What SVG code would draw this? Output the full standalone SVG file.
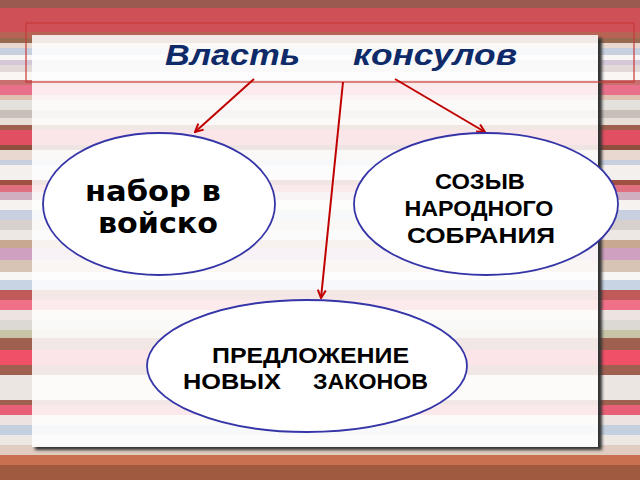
<svg xmlns="http://www.w3.org/2000/svg" width="640" height="480" viewBox="0 0 640 480">
  <defs>
    <style>
      .node { fill: #ffffff; stroke: #3535a8; stroke-width: 1.8; }
      .conn { stroke: #c00000; stroke-width: 2; fill: none; marker-end: url(#arr); }
      .title { font-family: "Liberation Sans", Arial, sans-serif; font-weight: bold; font-style: italic; font-size: 30px; fill: #0f2a68; }
      .cap { font-family: "Liberation Sans", Arial, sans-serif; font-weight: bold; font-size: 22px; fill: #000; }
      .big { font-family: "DejaVu Sans", sans-serif; font-weight: bold; font-size: 29px; fill: #000; }
    </style>
    <marker id="arr" viewBox="0 0 10 10" refX="9" refY="5" markerWidth="10" markerHeight="10" markerUnits="userSpaceOnUse" orient="auto">
      <path d="M1,1 L9,5 L1,9" fill="none" stroke="#c00000" stroke-width="2"/>
    </marker>
    <filter id="sh" x="-5%" y="-5%" width="110%" height="110%">
      <feGaussianBlur stdDeviation="1.5"/>
    </filter>
    <clipPath id="panelClip">
      <rect x="32" y="35" width="566" height="412"/>
    </clipPath>
    <g id="stripes">
      <rect x="0" y="0" width="640" height="480" fill="#e8dcd8"/>
      <rect x="0" y="0" width="640" height="8" fill="#9a5a50"/>
      <rect x="0" y="8" width="640" height="24" fill="#d05058"/>
      <rect x="0" y="32" width="640" height="6" fill="#b86454"/>
      <rect x="0" y="38" width="640" height="5" fill="#9a6a50"/>
      <rect x="0" y="43" width="640" height="5" fill="#e8d8d0"/>
      <rect x="0" y="48" width="640" height="7" fill="#c8d0e0"/>
      <rect x="0" y="55" width="640" height="5" fill="#f8f6f4"/>
      <rect x="0" y="60" width="640" height="5" fill="#d4c8d8"/>
      <rect x="0" y="65" width="640" height="7" fill="#e2dad8"/>
      <rect x="0" y="72" width="640" height="8" fill="#faf6f4"/>
      <rect x="0" y="80" width="640" height="5" fill="#c87070"/>
      <rect x="0" y="85" width="640" height="10" fill="#e8708a"/>
      <rect x="0" y="95" width="640" height="5" fill="#e0c0b0"/>
      <rect x="0" y="100" width="640" height="10" fill="#e4e0dc"/>
      <rect x="0" y="110" width="640" height="8" fill="#c8c0b8"/>
      <rect x="0" y="118" width="640" height="7" fill="#e8e0d8"/>
      <rect x="0" y="125" width="640" height="5" fill="#a06050"/>
      <rect x="0" y="130" width="640" height="15" fill="#e05062"/>
      <rect x="0" y="145" width="640" height="5" fill="#905040"/>
      <rect x="0" y="150" width="640" height="10" fill="#e8d8d0"/>
      <rect x="0" y="160" width="640" height="5" fill="#c8d0e0"/>
      <rect x="0" y="165" width="640" height="15" fill="#f4f0ee"/>
      <rect x="0" y="180" width="640" height="5" fill="#a05040"/>
      <rect x="0" y="185" width="640" height="7" fill="#e07080"/>
      <rect x="0" y="192" width="640" height="8" fill="#d0b0c0"/>
      <rect x="0" y="200" width="640" height="10" fill="#f6f2f0"/>
      <rect x="0" y="210" width="640" height="10" fill="#c8d0e0"/>
      <rect x="0" y="220" width="640" height="10" fill="#d8d0cc"/>
      <rect x="0" y="230" width="640" height="10" fill="#eee8e4"/>
      <rect x="0" y="240" width="640" height="8" fill="#c8a890"/>
      <rect x="0" y="248" width="640" height="12" fill="#d0a0c0"/>
      <rect x="0" y="260" width="640" height="12" fill="#d8c4b4"/>
      <rect x="0" y="272" width="640" height="8" fill="#f8f6f4"/>
      <rect x="0" y="280" width="640" height="10" fill="#c8d4e4"/>
      <rect x="0" y="290" width="640" height="10" fill="#c05a58"/>
      <rect x="0" y="300" width="640" height="10" fill="#f07088"/>
      <rect x="0" y="310" width="640" height="10" fill="#ece4e0"/>
      <rect x="0" y="320" width="640" height="10" fill="#dcd8d4"/>
      <rect x="0" y="330" width="640" height="8" fill="#c8c4a8"/>
      <rect x="0" y="338" width="640" height="12" fill="#a06050"/>
      <rect x="0" y="350" width="640" height="15" fill="#f05068"/>
      <rect x="0" y="365" width="640" height="10" fill="#a06050"/>
      <rect x="0" y="375" width="640" height="25" fill="#ece6e2"/>
      <rect x="0" y="400" width="640" height="5" fill="#a06050"/>
      <rect x="0" y="405" width="640" height="10" fill="#e86078"/>
      <rect x="0" y="415" width="640" height="10" fill="#ece4e0"/>
      <rect x="0" y="425" width="640" height="10" fill="#c4d0e0"/>
      <rect x="0" y="435" width="640" height="10" fill="#eee8e4"/>
      <rect x="0" y="445" width="640" height="10" fill="#e0ccc0"/>
      <rect x="0" y="455" width="640" height="10" fill="#c87050"/>
      <rect x="0" y="465" width="640" height="15" fill="#a05a40"/>
    </g>
  </defs>

  <g id="background">
    <use href="#stripes"/>
  </g>

  <g id="panel">
    <rect x="35" y="38" width="567" height="412" fill="#333333" filter="url(#sh)"/>
    <rect x="32" y="35" width="566" height="412" fill="#ffffff"/>
    <g clip-path="url(#panelClip)" opacity="0.14">
      <use href="#stripes"/>
    </g>
  </g>

  <g id="title">
    <rect x="26" y="23" width="608" height="59" fill="none" stroke="#c83838" stroke-width="1.2"/>
    <text class="title" y="65"><tspan x="165" textLength="135" lengthAdjust="spacingAndGlyphs">Власть</tspan><tspan x="353" textLength="164" lengthAdjust="spacingAndGlyphs">консулов</tspan></text>
  </g>

  <g id="connectors">
    <line class="conn" x1="254" y1="79" x2="195" y2="132"/>
    <line class="conn" x1="395" y1="79" x2="485" y2="132"/>
    <line class="conn" x1="343" y1="82" x2="321" y2="298"/>
  </g>

  <g id="node-nabor">
    <ellipse class="node" cx="159" cy="204" rx="116" ry="71"/>
    <text class="big" text-anchor="middle">
      <tspan x="158" y="201" textLength="136" lengthAdjust="spacingAndGlyphs">набор в</tspan>
      <tspan x="158" y="233" textLength="120" lengthAdjust="spacingAndGlyphs">войско</tspan>
    </text>
  </g>

  <g id="node-sozyv">
    <ellipse class="node" cx="486" cy="204" rx="132" ry="71"/>
    <text class="cap" text-anchor="middle">
      <tspan x="483" y="189" textLength="90" lengthAdjust="spacingAndGlyphs">СОЗЫВ</tspan>
      <tspan x="482" y="216" textLength="149" lengthAdjust="spacingAndGlyphs">НАРОДНОГО</tspan>
      <tspan x="481" y="243" textLength="148" lengthAdjust="spacingAndGlyphs">СОБРАНИЯ</tspan>
    </text>
  </g>

  <g id="node-predlozhenie">
    <ellipse class="node" cx="307" cy="366" rx="160" ry="66"/>
    <text class="cap">
      <tspan x="212" y="363" textLength="197" lengthAdjust="spacingAndGlyphs">ПРЕДЛОЖЕНИЕ</tspan>
      <tspan x="183" y="389" textLength="98" lengthAdjust="spacingAndGlyphs">НОВЫХ</tspan><tspan x="313" y="389" textLength="115" lengthAdjust="spacingAndGlyphs">ЗАКОНОВ</tspan>
    </text>
  </g>
</svg>
